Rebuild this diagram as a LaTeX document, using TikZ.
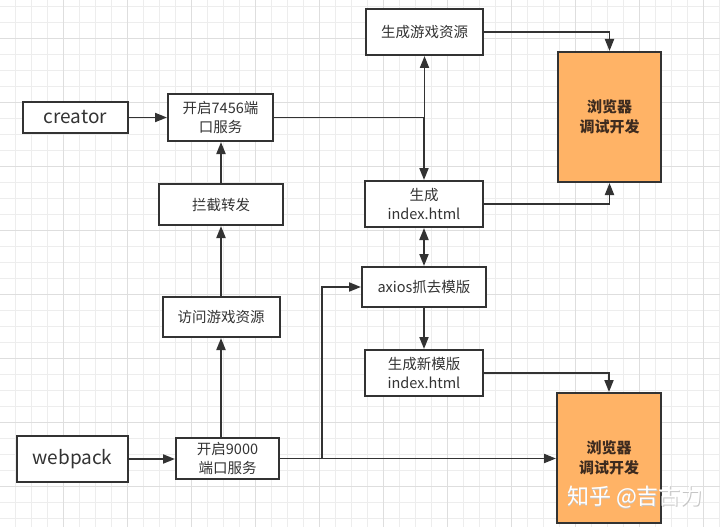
\documentclass[tikz,border=0pt]{standalone}
\usepackage{fontspec}
\setmainfont{Noto Sans CJK SC}
\usetikzlibrary{arrows.meta}
\definecolor{ln}{HTML}{333333}
\definecolor{org}{HTML}{FFB366}
\definecolor{brn}{HTML}{3D2B1F}
\definecolor{gridl}{HTML}{EDEDED}
\definecolor{gridd}{HTML}{DEDEDE}
\begin{document}
\begin{tikzpicture}[x=1pt,y=-1pt,
  box/.style={draw=ln, line width=2pt, fill=white, text=ln, font=\fontsize{14.5}{19}\selectfont, align=center, inner sep=0pt},
  big/.style={font=\fontsize{19}{22}\selectfont},
  bro/.style={box, fill=org, text=brn, font=\fontsize{15}{20}\selectfont\bfseries},
  arr/.style={draw=ln, line width=1.9pt, -{Triangle[length=12pt,width=9pt]}},
  darr/.style={draw=ln, line width=1.9pt, {Triangle[length=12pt,width=9pt]}-{Triangle[length=12pt,width=9pt]}},
  plain/.style={draw=ln, line width=1.9pt}
]
\useasboundingbox (0,0) rectangle (720,527);
\fill[white] (0,0) rectangle (720,527);
% grid
\foreach \i in {0,...,45} {
  \draw[gridl, line width=0.8pt] ({-0.3+16*\i},0) -- ({-0.3+16*\i},527);
}
\foreach \i in {0,...,33} {
  \draw[gridl, line width=0.8pt] (0,{6.7+16*\i}) -- (720,{6.7+16*\i});
}
\foreach \i in {0,...,11} {
  \draw[gridd, line width=0.9pt] ({-0.3+64*\i},0) -- ({-0.3+64*\i},527);
}
\foreach \i in {0,...,7} {
  \draw[gridd, line width=0.9pt] (0,{38.7+64*\i}) -- (720,{38.7+64*\i});
}

% nodes
\node[box, big, minimum width=105pt, minimum height=31pt] (creator) at (75.5,117.5) {creator};
\node[box, minimum width=105pt, minimum height=47pt] (p7456) at (220.5,117.5) {开启7456端\\口服务};
\node[box, minimum width=124pt, minimum height=41pt] (ljzf) at (221,204.5) {拦截转发};
\node[box, minimum width=117pt, minimum height=40pt] (fwyx) at (221,317) {访问游戏资源};
\node[box, big, minimum width=111pt, minimum height=46pt] (webpack) at (72.5,459) {webpack};
\node[box, minimum width=103pt, minimum height=41pt] (p9000) at (227.5,458.5) {开启9000\\端口服务};

\node[box, minimum width=117pt, minimum height=46pt] (scyx) at (424.5,32) {生成游戏资源};
\node[box, minimum width=118pt, minimum height=46pt] (index) at (424,204) {生成\\index.html};
\node[box, minimum width=124pt, minimum height=40pt] (axios) at (424,287) {axios抓去模版};
\node[box, minimum width=118pt, minimum height=46pt] (xmb) at (424,373) {生成新模版\\index.html};

\node[bro, minimum width=103pt, minimum height=130pt] (br1) at (609.5,117) {浏览器\\调试开发};
\node[bro, minimum width=104pt, minimum height=130pt] (br2) at (609,458) {浏览器\\调试开发};

\coordinate (jx) at (322,0);

% connectors
\draw[arr] (creator.east) -- (creator.east -| p7456.west);
\draw[arr] (ljzf.north) -- (ljzf.north |- p7456.south);
\draw[arr] (fwyx.north) -- (fwyx.north |- ljzf.south);
\draw[arr] (fwyx.south |- p9000.north) -- (fwyx.south);
\draw[arr] (webpack.east) -- (webpack.east -| p9000.west);

\draw[arr] (p7456.east) -| (scyx.south);
\draw[arr] (p7456.east) -| (index.north);
\draw[arr] (scyx.east) -| (br1.north);
\draw[arr] (index.east) -| (br1.south);
\draw[darr] (index.south) -- (axios.north);
\draw[arr] (axios.south) -- (xmb.north);
\draw[arr] (xmb.east) -| (br2.north);
\draw[arr] (p9000.east) -| (jx |- axios.west) -- (axios.west);
\draw[arr] (p9000.east) -- (p9000.east -| br2.west);

% watermark
\node[text=gray!45, font=\fontsize{22}{22}\selectfont] (wms) at (635.7,497.7) {知乎 @吉古力};
\node[text=white, font=\fontsize{22}{22}\selectfont] (wm) at (635,497) {知乎 @吉古力};
\end{tikzpicture}
\end{document}
